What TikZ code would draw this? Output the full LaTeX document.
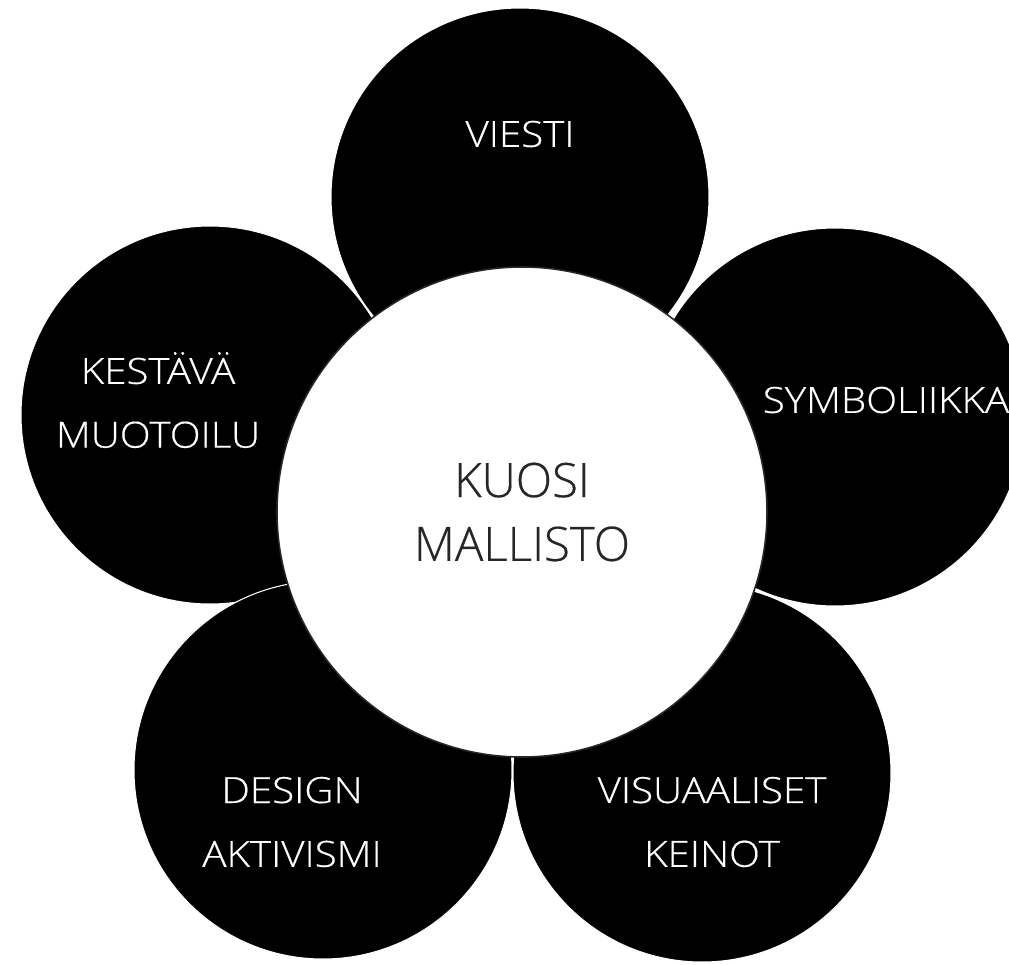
\documentclass[tikz,border=0pt]{standalone}
\usepackage{fontspec}
\setmainfont{Open Sans Light}[FakeBold=0.4]
\newfontfamily\petalfont{Open Sans Light}[FakeStretch=1.12,FakeBold=0.4]
\usepackage{tikz}

\begin{document}
\begin{tikzpicture}[
  petal/.style={circle,fill=black,draw=white,line width=0.6pt,minimum size=7.56cm,inner sep=0pt},
  hub/.style={circle,fill=white,draw=black!85,line width=0.9pt,minimum size=9.8cm,inner sep=0pt},
  lbl/.style={text=white,align=center,font=\petalfont\fontsize{20.5}{36.3}\selectfont},
  hublbl/.style={text=black!85,align=center,font=\fontsize{27}{36.3}\selectfont}]
\useasboundingbox (0,0) rectangle (20.18,-19.28);
\node[petal] (left) at (4.20,-8.30) {};
\node[petal] (right) at (16.70,-8.34) {};
\node[petal] (botleft) at (6.46,-15.40) {};
\node[petal] (botright) at (14.04,-15.46) {};
\node[petal] (top) at (10.40,-3.94) {};
\node[hub] (hub) at (10.44,-10.24) {};
\node[hublbl] (kuosi) at (hub.center) {KUOSI\\MALLISTO};
\node[lbl] (viesti) at ([yshift=1.26cm]top.center) {VIESTI};
\node[lbl] (kestava) at ([xshift=-1.04cm,yshift=0.30cm]left.center) {KESTÄVÄ\\MUOTOILU};
\node[lbl] (symboliikka) at ([xshift=1.02cm,yshift=0.34cm]right.center) {SYMBOLIIKKA};
\node[lbl] (design) at ([xshift=-0.62cm,yshift=-1.04cm]botleft.center) {DESIGN\\AKTIVISMI};
\node[lbl] (visuaaliset) at ([xshift=0.20cm,yshift=-0.98cm]botright.center) {VISUAALISET\\KEINOT};
\end{tikzpicture}
\end{document}
